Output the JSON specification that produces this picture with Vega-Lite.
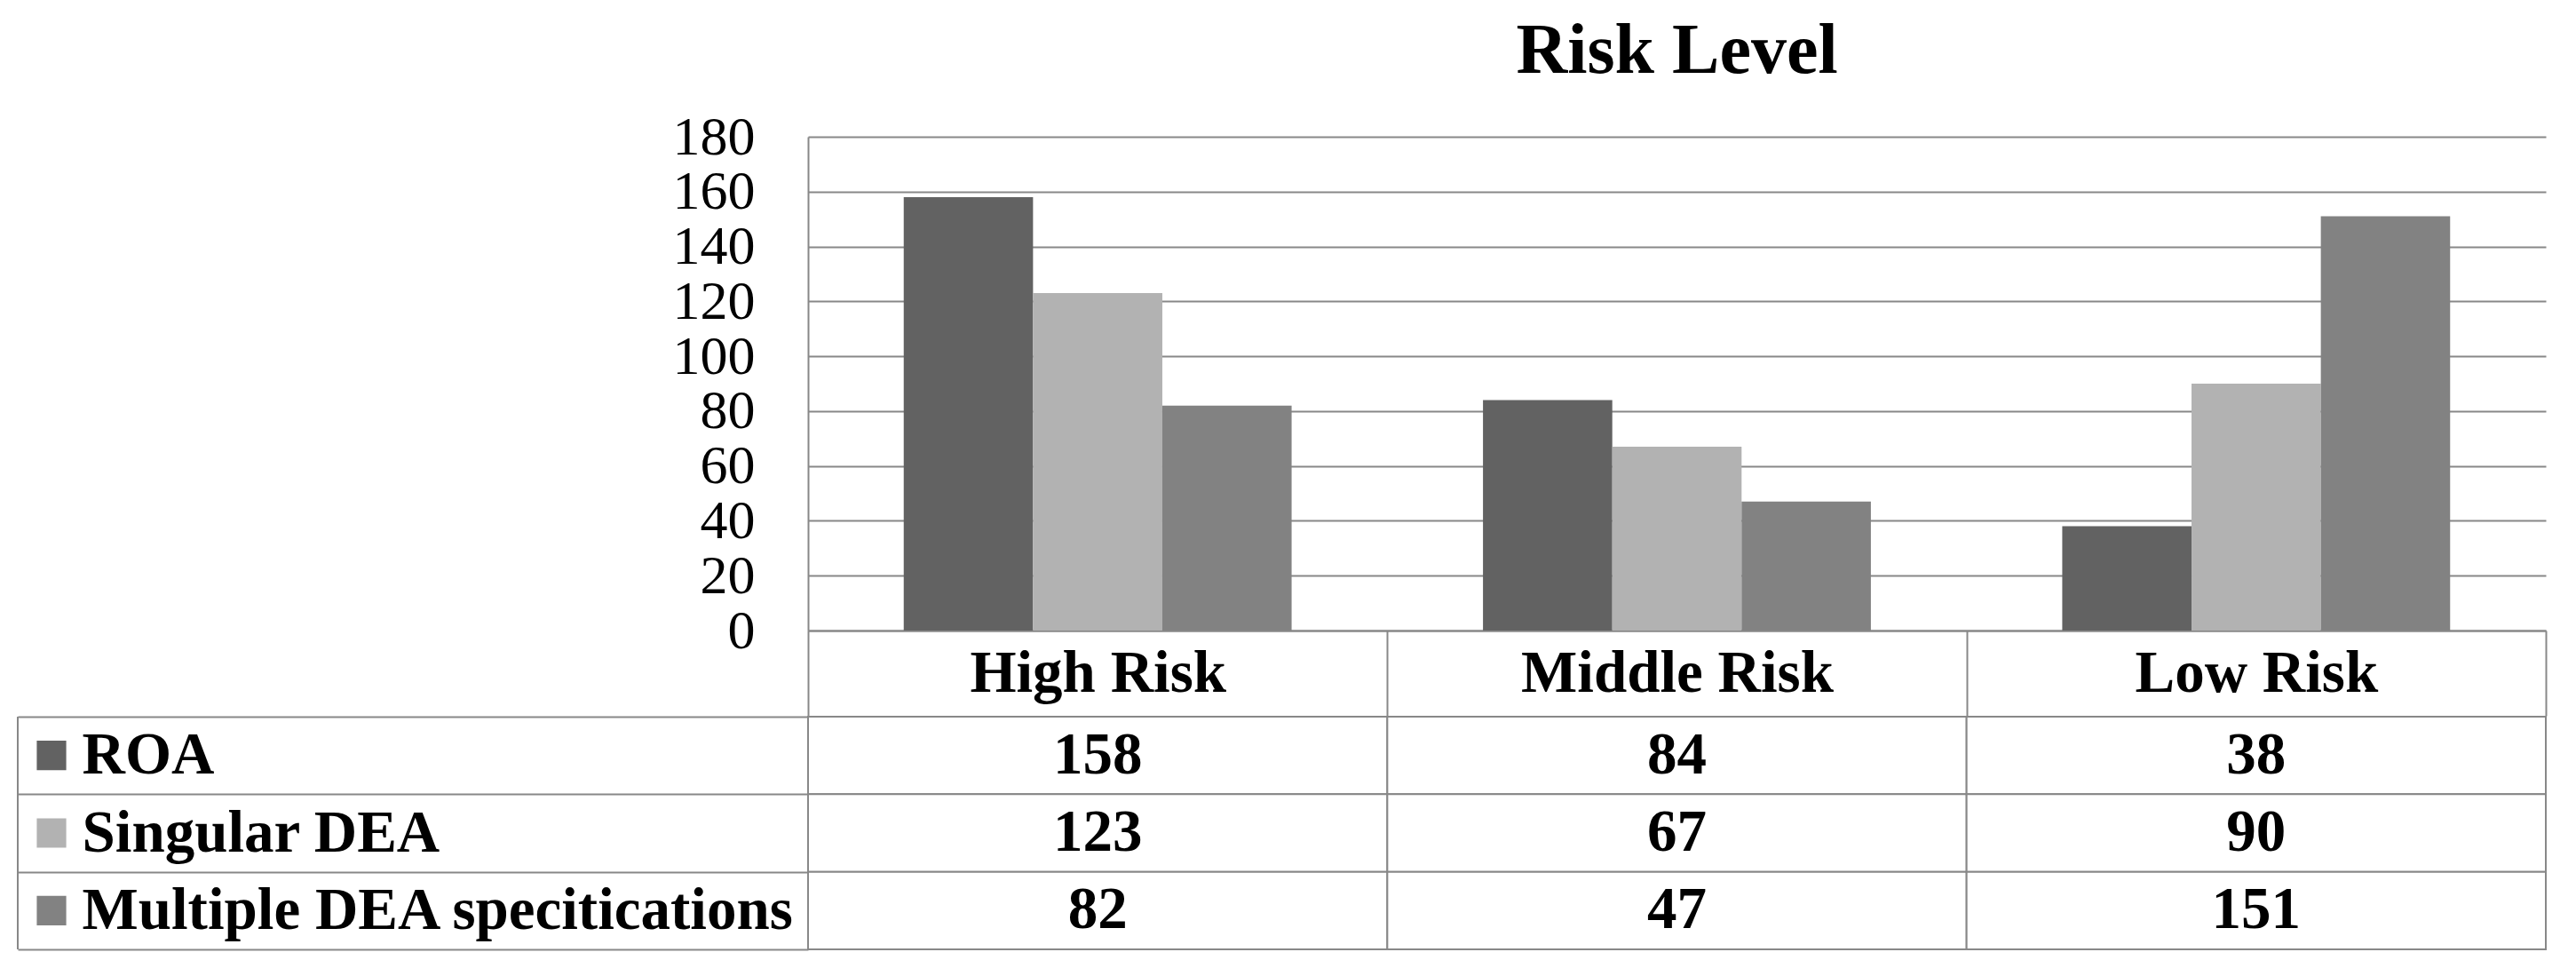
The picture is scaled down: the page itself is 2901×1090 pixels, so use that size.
{
  "$schema": "https://vega.github.io/schema/vega-lite/v6.json",
  "padding": {"left": 19, "top": 18, "right": 5, "bottom": 5},
  "background": "white",
  "config": {"view": {"stroke": null}, "font": "Liberation Serif"},
  "datasets": {
    "risk": [
      {"category": "High Risk", "series": "ROA", "value": 158},
      {"category": "High Risk", "series": "Singular DEA", "value": 123},
      {"category": "High Risk", "series": "Multiple DEA specitications", "value": 82},
      {"category": "Middle Risk", "series": "ROA", "value": 84},
      {"category": "Middle Risk", "series": "Singular DEA", "value": 67},
      {"category": "Middle Risk", "series": "Multiple DEA specitications", "value": 47},
      {"category": "Low Risk", "series": "ROA", "value": 38},
      {"category": "Low Risk", "series": "Singular DEA", "value": 90},
      {"category": "Low Risk", "series": "Multiple DEA specitications", "value": 151}
    ]
  },
  "data": {"name": "risk"},
  "spacing": -37,
  "vconcat": [
    {
      "width": 1957,
      "height": 556,
      "title": {"text": "Risk Level", "font": "Liberation Serif", "fontSize": 80, "fontWeight": "bold", "color": "black", "anchor": "middle", "frame": "group", "offset": 24},
      "mark": {"type": "bar"},
      "encoding": {
        "x": {
          "field": "category", "type": "nominal",
          "sort": ["High Risk", "Middle Risk", "Low Risk"],
          "scale": {"paddingInner": 0, "paddingOuter": 0},
          "axis": {
            "title": null, "orient": "bottom", "labelAngle": 0,
            "labelFont": "Liberation Serif", "labelFontSize": 67, "labelFontWeight": "bold", "labelColor": "black",
            "labelBaseline": "middle", "labelPadding": -48, "labelLimit": 2000,
            "ticks": true, "tickSize": 96, "tickBand": "extent", "tickColor": "#888888", "tickWidth": 2,
            "domain": true, "domainColor": "#888888", "domainWidth": 2,
            "grid": false, "minExtent": 96, "maxExtent": 96
          }
        },
        "xOffset": {
          "field": "series", "type": "nominal",
          "sort": ["ROA", "Singular DEA", "Multiple DEA specitications"],
          "scale": {"paddingInner": 0, "paddingOuter": 0.74}
        },
        "y": {
          "field": "value", "type": "quantitative",
          "scale": {"domain": [0, 180], "nice": false},
          "axis": {
            "title": null, "values": [0, 20, 40, 60, 80, 100, 120, 140, 160, 180],
            "labelFont": "Liberation Serif", "labelFontSize": 62, "labelColor": "black",
            "labelPadding": 60, "labelOverlap": false, "labelBaseline": "middle",
            "ticks": false, "domain": true, "domainColor": "#888888", "domainWidth": 2,
            "grid": true, "gridColor": "#888888", "gridWidth": 2,
            "minExtent": 891, "maxExtent": 891
          }
        },
        "color": {
          "field": "series", "type": "nominal",
          "sort": ["ROA", "Singular DEA", "Multiple DEA specitications"],
          "scale": {"domain": ["ROA", "Singular DEA", "Multiple DEA specitications"], "range": ["#626262", "#b2b2b2", "#828282"]},
          "legend": null
        }
      }
    },
    {
      "width": 1957,
      "height": 262,
      "layer": [
        {
          "mark": {"type": "rect", "fill": "white", "stroke": "#888888", "strokeWidth": 2},
          "encoding": {
            "x": {
              "field": "category", "type": "nominal",
              "sort": ["High Risk", "Middle Risk", "Low Risk"],
              "scale": {"paddingInner": 0, "paddingOuter": 0},
              "axis": null
            },
            "y": {
              "field": "series", "type": "nominal",
              "sort": ["ROA", "Singular DEA", "Multiple DEA specitications"],
              "scale": {"paddingInner": 0, "paddingOuter": 0},
              "axis": {
                "title": null, "orient": "left",
                "labelAlign": "left", "labelBaseline": "middle", "labelPadding": -72,
                "labelFont": "Liberation Serif", "labelFontSize": 67, "labelFontWeight": "bold", "labelColor": "black", "labelLimit": 2000,
                "ticks": true, "tickSize": 890, "tickBand": "extent", "tickColor": "#888888", "tickWidth": 2,
                "domain": false, "grid": false, "minExtent": 891, "maxExtent": 891
              }
            }
          }
        },
        {
          "mark": {"type": "text", "baseline": "middle", "font": "Liberation Serif", "fontSize": 67, "fontWeight": "bold", "color": "black"},
          "encoding": {
            "x": {"field": "category", "type": "nominal", "sort": ["High Risk", "Middle Risk", "Low Risk"]},
            "y": {"field": "series", "type": "nominal", "sort": ["ROA", "Singular DEA", "Multiple DEA specitications"]},
            "text": {"field": "value", "type": "quantitative"}
          }
        },
        {
          "transform": [{"aggregate": [{"op": "count", "as": "n"}], "groupby": ["series"]}],
          "mark": {"type": "square", "size": 1100, "opacity": 1, "filled": true, "xOffset": -852},
          "encoding": {
            "x": {"datum": "High Risk", "type": "nominal", "bandPosition": 0},
            "y": {"field": "series", "type": "nominal", "sort": ["ROA", "Singular DEA", "Multiple DEA specitications"]},
            "color": {
              "field": "series", "type": "nominal",
              "scale": {"domain": ["ROA", "Singular DEA", "Multiple DEA specitications"], "range": ["#626262", "#b2b2b2", "#828282"]},
              "legend": null
            }
          }
        },
        {
          "transform": [{"aggregate": [{"op": "count", "as": "n"}], "groupby": ["category"]}, {"filter": "datum.category === 'High Risk'"}],
          "mark": {"type": "rule", "color": "#888888", "strokeWidth": 2, "xOffset": -890},
          "encoding": {
            "x": {"field": "category", "type": "nominal", "sort": ["High Risk", "Middle Risk", "Low Risk"], "bandPosition": 0}
          }
        }
      ]
    }
  ]
}
